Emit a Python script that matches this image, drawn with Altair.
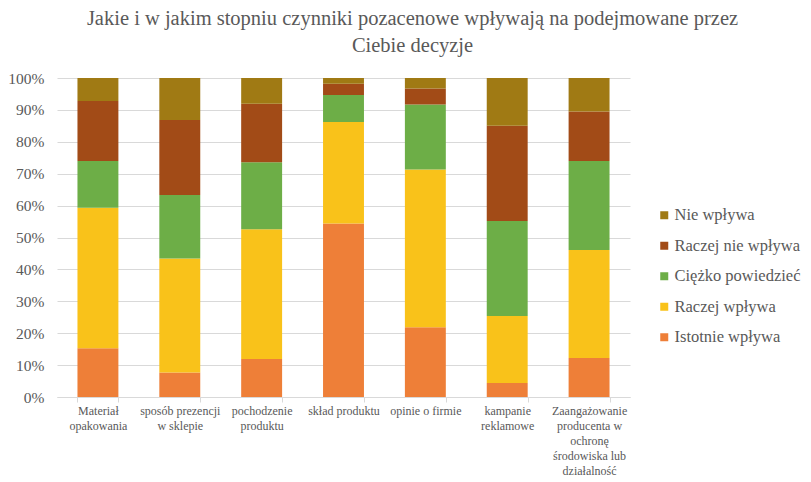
import altair as alt
import pandas as pd

categories = [
    "Materiał\nopakowania",
    "sposób prezencji\nw sklepie",
    "pochodzenie\nproduktu",
    "skład produktu",
    "opinie o firmie",
    "kampanie\nreklamowe",
    "Zaangażowanie\nproducenta w\nochronę\nśrodowiska lub\ndziałalność\ncharytatywna",
]
series = ["Istotnie wpływa", "Raczej wpływa", "Ciężko powiedzieć", "Raczej nie wpływa", "Nie wpływa"]
istotnie = [15.3, 7.7, 11.9, 54.4, 21.9, 4.4, 12.2]
raczej = [44.0, 35.7, 40.7, 31.8, 49.4, 21.0, 33.9]
ciezko = [14.7, 19.9, 21.0, 8.5, 20.4, 29.8, 27.9]
raczej_nie = [18.8, 23.5, 18.3, 3.5, 5.0, 29.8, 15.5]
nie = [7.2, 13.2, 8.1, 1.8, 3.3, 15.0, 10.5]
colors = ["#EE7F38", "#F9C21A", "#6DAE47", "#A24B17", "#A07A14"]

values = [istotnie, raczej, ciezko, raczej_nie, nie]
rows = []
for si, (s, vals) in enumerate(zip(series, values)):
    for c, v in zip(categories, vals):
        rows.append({"kategoria": c, "seria": s, "wartosc": v, "kolejnosc": si})
df = pd.DataFrame(rows)

font = "Liberation Serif"
txt = "#595959"

chart = alt.Chart(df).mark_bar().encode(
    x=alt.X("kategoria:N", sort=categories, title=None,
            scale=alt.Scale(paddingInner=0.5, paddingOuter=0.25),
            axis=alt.Axis(labelAngle=0, labelExpr="split(datum.label, '\\n')",
                          labelFont=font, labelFontSize=12, labelColor=txt,
                          labelLineHeight=15.2, labelBaseline="top", labelPadding=3,
                          ticks=True, tickBand="extent", tickSize=5, tickColor="#D9D9D9",
                          domainColor="#D9D9D9", grid=False)),
    y=alt.Y("wartosc:Q", stack="zero", title=None,
            scale=alt.Scale(domain=[0, 100], nice=False),
            axis=alt.Axis(values=list(range(0, 101, 10)), labelExpr="datum.value + '%'",
                          labelFont=font, labelFontSize=15.5, labelColor=txt,
                          ticks=False, domain=False, labelPadding=13,
                          gridColor="#D9D9D9", gridWidth=1)),
    color=alt.Color("seria:N",
                    scale=alt.Scale(domain=list(reversed(series)), range=list(reversed(colors))),
                    legend=alt.Legend(title=None, orient="none", legendX=599, legendY=129,
                                      labelFont=font, labelFontSize=16.5, labelColor=txt,
                                      labelLimit=300,
                                      symbolType="square", symbolSize=64, symbolStrokeWidth=0,
                                      rowPadding=13.5, labelOffset=2)),
    order=alt.Order("kolejnosc:Q", sort="ascending"),
).properties(
    width=573,
    height=319,
    title=alt.Title(
        ["Jakie i w jakim stopniu czynniki pozacenowe wpływają na podejmowane przez",
         "Ciebie decyzje"],
        font=font, fontSize=20.5, fontWeight="normal", color=txt, lineHeight=27,
        anchor="middle", dx=69, offset=15),
    autosize=alt.AutoSizeParams(type="none"),
    padding={"left": 49, "top": 70, "right": 173, "bottom": 95},
).configure_view(stroke=None)

chart.save("out.html", embed_options={"renderer": "svg", "actions": False})
